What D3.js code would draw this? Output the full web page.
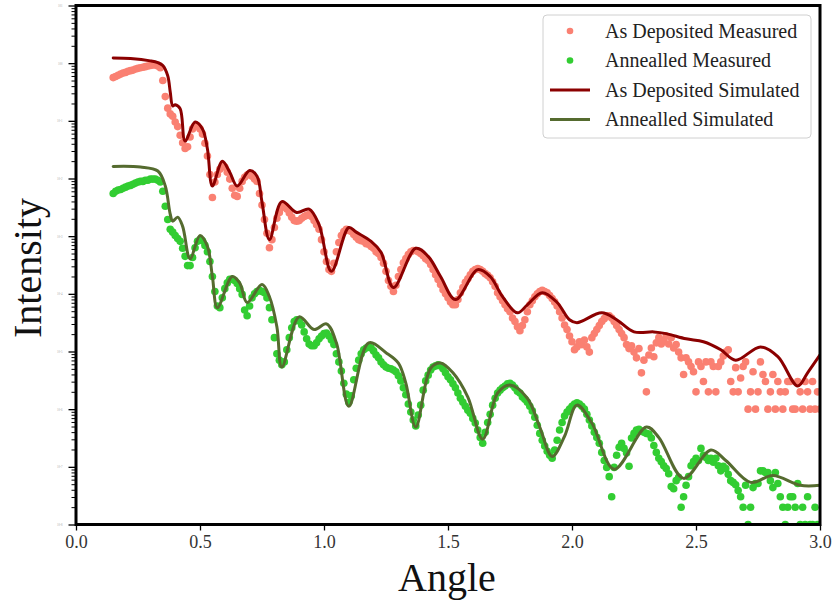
<!DOCTYPE html>
<html>
<head>
<meta charset="utf-8">
<script src="https://cdn.jsdelivr.net/npm/d3@7"></script>
<style>
  body { margin: 0; background: #fff; }
  svg { display: block; }
</style>
</head>
<body>
<svg id="chart" width="832" height="608"></svg>
<script>
// X-ray reflectivity scans: measured points on a 0.01 degree grid, log10 intensity.
const scanStart = 0.15;
const scanStep = 0.01;
const scanCount = 286;

const depositedMeasuredLog = [
  -0.25,-0.23,-0.21,-0.19,-0.17,-0.16,-0.14,-0.13,-0.12,-0.10,
  -0.09,-0.08,-0.07,-0.06,-0.05,-0.04,-0.03,-0.03,-0.05,-0.08,
  -0.30,-0.58,-0.78,-0.88,-0.92,-1.02,-1.10,-1.25,-1.38,-1.48,
  -1.45,-1.28,-1.14,-1.09,-1.09,-1.14,-1.23,-1.39,-1.61,-1.93,
  -2.33,-2.06,-1.93,-1.84,-1.79,-1.80,-1.89,-2.01,-2.17,-2.29,
  -2.31,-2.17,-2.05,-1.98,-1.94,-1.93,-1.96,-2.01,-2.05,-2.26,
  -2.46,-2.71,-2.95,-3.20,-3.06,-2.85,-2.69,-2.59,-2.50,-2.48,
  -2.53,-2.60,-2.67,-2.73,-2.74,-2.73,-2.69,-2.66,-2.64,-2.62,
  -2.66,-2.73,-2.80,-2.88,-3.06,-3.27,-3.44,-3.58,-3.61,-3.47,
  -3.27,-3.11,-2.99,-2.92,-2.88,-2.90,-2.92,-2.97,-3.02,-3.06,
  -3.08,-3.09,-3.13,-3.14,-3.18,-3.21,-3.27,-3.30,-3.37,-3.47,
  -3.61,-3.77,-3.87,-3.96,-3.85,-3.70,-3.58,-3.46,-3.39,-3.32,
  -3.27,-3.25,-3.25,-3.27,-3.30,-3.34,-3.39,-3.42,-3.49,-3.58,
  -3.67,-3.75,-3.84,-3.93,-4.00,-4.07,-4.14,-4.19,-4.19,-4.10,
  -3.98,-3.89,-3.80,-3.74,-3.67,-3.61,-3.58,-3.56,-3.58,-3.61,
  -3.65,-3.68,-3.72,-3.79,-3.87,-3.98,-4.05,-4.12,-4.19,-4.26,
  -4.31,-4.42,-4.48,-4.57,-4.64,-4.55,-4.45,-4.31,-4.19,-4.12,
  -4.05,-4.00,-3.96,-3.94,-3.96,-3.98,-4.03,-4.08,-4.14,-4.21,
  -4.31,-4.42,-4.54,-4.62,-4.73,-4.83,-4.97,-4.92,-4.83,-4.88,
  -4.80,-4.92,-5.01,-4.76,-4.69,-4.62,-4.55,-4.48,-4.43,-4.38,
  -4.38,-4.42,-4.48,-4.55,-4.62,-4.69,-4.76,-4.88,-4.95,-4.90,
  -5.01,-5.11,-4.95,-5.37,-5.15,-5.70,-5.06,-4.94,-5.09,-4.85,
  -4.76,-4.87,-4.80,-4.73,-4.87,-4.76,-4.94,-4.88,-5.01,-5.11,
  -5.40,-5.11,-5.18,-5.26,-5.35,-5.70,-5.18,-5.26,-5.52,-5.18,
  -5.70,-5.18,-5.26,-5.70,-5.26,-5.18,-5.08,-5.01,-4.97,-5.52,
  -5.70,-5.28,-5.70,-5.46,-5.26,-5.18,-6.00,-5.70,-5.35,-6.00,
  -5.70,-5.18,-5.40,-5.52,-6.00,-5.70,-5.40,-6.00,-5.52,-5.70,
  -6.00,-5.70,-5.52,-5.52,-6.00,-6.00,-5.52,-5.70,-6.00,-5.52,
  -5.70,-6.00,-5.52,-6.00,-5.70,-6.00
];

const annealedMeasuredLog = [
  -2.26,-2.22,-2.20,-2.19,-2.17,-2.15,-2.13,-2.12,-2.10,-2.08,
  -2.06,-2.05,-2.05,-2.03,-2.03,-2.01,-2.01,-2.01,-2.03,-2.06,
  -2.22,-2.48,-2.71,-2.88,-2.93,-2.99,-3.04,-3.09,-3.21,-3.35,
  -3.51,-3.51,-3.37,-3.20,-3.09,-3.06,-3.08,-3.16,-3.27,-3.44,
  -3.70,-3.96,-4.21,-4.24,-4.07,-3.91,-3.81,-3.75,-3.75,-3.77,
  -3.82,-3.91,-4.01,-4.28,-4.38,-4.21,-4.07,-4.00,-3.96,-3.94,
  -3.96,-3.98,-4.07,-4.24,-4.45,-4.76,-5.04,-5.15,-5.23,-5.18,
  -4.97,-4.76,-4.59,-4.48,-4.45,-4.47,-4.54,-4.66,-4.78,-4.87,
  -4.90,-4.90,-4.85,-4.78,-4.73,-4.69,-4.68,-4.73,-4.80,-4.88,
  -5.04,-5.18,-5.34,-5.55,-5.74,-5.88,-5.77,-5.49,-5.29,-5.15,
  -5.04,-4.97,-4.94,-4.92,-4.94,-4.99,-5.06,-5.11,-5.18,-5.23,
  -5.27,-5.29,-5.30,-5.32,-5.35,-5.42,-5.51,-5.63,-5.75,-5.91,
  -6.05,-6.19,-6.29,-6.10,-5.93,-5.67,-5.51,-5.41,-5.32,-5.27,
  -5.25,-5.23,-5.25,-5.30,-5.37,-5.44,-5.49,-5.56,-5.63,-5.72,
  -5.81,-5.88,-5.95,-6.02,-6.07,-6.16,-6.24,-6.36,-6.49,-6.59,
  -6.40,-6.23,-6.09,-5.93,-5.81,-5.72,-5.67,-5.63,-5.60,-5.56,
  -5.55,-5.58,-5.63,-5.69,-5.72,-5.79,-5.83,-5.88,-5.95,-6.03,
  -6.14,-6.28,-6.42,-6.54,-6.64,-6.73,-6.80,-6.85,-6.71,-6.54,
  -6.36,-6.23,-6.12,-6.05,-6.00,-5.95,-5.91,-5.89,-5.91,-5.95,
  -6.00,-6.09,-6.19,-6.29,-6.40,-6.49,-6.59,-6.75,-6.89,-7.01,
  -7.17,-7.52,-7.01,-6.80,-6.66,-6.59,-6.68,-6.76,-6.99,-6.50,
  -6.42,-6.36,-6.35,-6.38,-6.40,-6.42,-6.43,-6.50,-6.63,-6.75,
  -6.85,-6.91,-6.98,-7.03,-7.12,-7.34,-7.38,-7.24,-7.18,-7.70,
  -7.52,-7.32,-7.17,-6.98,-6.91,-6.85,-6.89,-6.68,-6.80,-6.84,
  -6.89,-6.85,-6.92,-6.85,-6.98,-7.07,-6.99,-7.03,-7.13,-7.24,
  -7.27,-7.31,-7.41,-7.52,-7.70,-7.32,-8.00,-7.70,-7.36,-7.29,
  -7.29,-7.07,-7.07,-7.10,-7.10,-7.24,-7.36,-7.10,-7.29,-7.52,
  -7.70,-8.00,-7.70,-7.52,-7.52,-7.70,-7.29,-8.00,-7.70,-8.00,
  -7.52,-8.00,-8.00,-7.70,-8.00,-8.00
];

// Simulated reflectivity curves (angle, log10 intensity).
const depositedSimAngle = [0.15,0.22,0.30,0.33,0.35,0.37,0.38,0.39,0.40,0.42,0.44,0.48,0.51,0.53,0.55,0.59,0.62,0.65,0.70,0.73,0.75,0.78,0.83,0.89,0.94,0.98,1.03,1.10,1.13,1.19,1.23,1.28,1.37,1.42,1.47,1.53,1.62,1.67,1.72,1.78,1.82,1.88,1.94,1.99,2.02,2.12,2.18,2.25,2.33,2.38,2.46,2.53,2.60,2.66,2.76,2.83,2.91,2.95,3.00];
const depositedSimLog = [0.09,0.08,0.04,0.01,-0.04,-0.22,-0.50,-0.74,-0.72,-0.79,-1.35,-1.02,-1.14,-1.49,-2.13,-1.70,-1.89,-2.13,-1.86,-1.96,-2.41,-3.06,-2.40,-2.59,-2.53,-2.80,-3.61,-2.85,-2.93,-3.09,-3.28,-3.89,-3.21,-3.35,-3.70,-4.10,-3.58,-3.70,-4.05,-4.33,-4.19,-3.98,-4.15,-4.45,-4.50,-4.33,-4.45,-4.66,-4.66,-4.69,-4.78,-4.83,-4.97,-5.15,-4.92,-5.09,-5.60,-5.37,-5.06];

const annealedSimAngle = [0.15,0.26,0.33,0.36,0.38,0.39,0.41,0.43,0.46,0.50,0.53,0.55,0.57,0.63,0.66,0.69,0.75,0.78,0.81,0.83,0.90,0.96,1.01,1.05,1.10,1.18,1.25,1.30,1.33,1.37,1.43,1.47,1.52,1.58,1.64,1.70,1.75,1.82,1.87,1.92,1.97,2.02,2.08,2.17,2.30,2.35,2.45,2.56,2.62,2.72,2.81,2.92,3.00];
const annealedSimLog = [-1.79,-1.80,-1.87,-2.13,-2.62,-2.74,-2.67,-2.83,-3.39,-2.99,-3.18,-3.70,-4.24,-3.70,-3.81,-4.15,-3.84,-4.05,-4.57,-5.27,-4.40,-4.62,-4.52,-4.85,-5.95,-4.85,-5.02,-5.20,-5.55,-6.31,-5.29,-5.20,-5.37,-5.79,-6.52,-5.72,-5.58,-5.81,-6.31,-6.82,-6.47,-5.93,-6.24,-7.04,-6.31,-6.49,-7.20,-6.71,-6.89,-7.27,-7.15,-7.32,-7.32];

const xTicks = [0.0, 0.5, 1.0, 1.5, 2.0, 2.5, 3.0];
const seriesNames = ["As Deposited Measured", "Annealled Measured", "As Deposited Simulated", "Annealled Simulated"];

const colors = {
  depositedPts: "#fa8072",
  annealedPts: "#32cd32",
  depositedLine: "#8b0000",
  annealedLine: "#556b2f"
};
const serif = "'Liberation Serif', 'Times New Roman', serif";

const svg = d3.select("#chart");
const plot = { left: 76, right: 820, top: 5.5, bottom: 524.5 };

const x = d3.scaleLinear().domain([0, 3]).range([plot.left, plot.right]);
const y = d3.scaleLog().domain([1e-8, 1e1]).range([plot.bottom, plot.top]);

const scanAngles = d3.range(scanCount).map(i => Math.round((scanStart + i * scanStep) * 100) / 100);
const toPoints = (angles, logs) => angles.map((a, i) => ({ a, v: Math.pow(10, logs[i]) }));

svg.append("defs").append("clipPath").attr("id", "plot-clip")
  .append("rect")
  .attr("x", plot.left).attr("y", plot.top)
  .attr("width", plot.right - plot.left).attr("height", plot.bottom - plot.top);

const area = svg.append("g").attr("clip-path", "url(#plot-clip)");

// measured scatter
[[depositedMeasuredLog, colors.depositedPts], [annealedMeasuredLog, colors.annealedPts]].forEach(([logs, c]) => {
  area.append("g").selectAll("circle")
    .data(toPoints(scanAngles, logs))
    .join("circle")
    .attr("cx", d => x(d.a))
    .attr("cy", d => y(d.v))
    .attr("r", 3.8)
    .attr("fill", c);
});

// simulated curves
const line = d3.line().x(d => x(d.a)).y(d => y(d.v)).curve(d3.curveCatmullRom.alpha(0.5));
[[depositedSimAngle, depositedSimLog, colors.depositedLine], [annealedSimAngle, annealedSimLog, colors.annealedLine]].forEach(([angles, logs, c]) => {
  area.append("path")
    .datum(toPoints(angles, logs))
    .attr("d", line)
    .attr("fill", "none")
    .attr("stroke", c)
    .attr("stroke-width", 3)
    .attr("stroke-linejoin", "round")
    .attr("stroke-linecap", "round");
});

// x axis
const xAxis = svg.append("g")
  .attr("transform", `translate(0,${plot.bottom})`)
  .call(d3.axisBottom(x).tickValues(xTicks).tickFormat(d3.format(".1f")).tickSize(6).tickPadding(5));
xAxis.select(".domain").remove();
xAxis.selectAll(".tick line").attr("stroke", "#000").attr("stroke-width", 1.3);
xAxis.selectAll(".tick text")
  .attr("font-family", serif).attr("font-size", 18).attr("fill", "#333");

// y axis: decade and sub-decade ticks
const majors = d3.range(-8, 2).map(k => Math.pow(10, k));
const minors = [];
for (let k = -8; k < 1; k++) for (let m = 2; m <= 9; m++) minors.push(m * Math.pow(10, k));

const yMinor = svg.append("g")
  .attr("transform", `translate(${plot.left},0)`)
  .call(d3.axisLeft(y).tickValues(minors).tickFormat("").tickSize(4.5));
yMinor.select(".domain").remove();
yMinor.selectAll(".tick line").attr("stroke", "#000").attr("stroke-width", 1);

const yMajor = svg.append("g")
  .attr("transform", `translate(${plot.left},0)`)
  .call(d3.axisLeft(y).tickValues(majors)
    .tickFormat(d => "10" + String(Math.round(Math.log10(d))))
    .tickSize(7.5).tickPadding(6));
yMajor.select(".domain").remove();
yMajor.selectAll(".tick line").attr("stroke", "#000").attr("stroke-width", 1.3);
yMajor.selectAll(".tick text")
  .attr("font-family", serif).attr("font-size", 3).attr("fill", "#aaa");

// frame
svg.append("rect")
  .attr("x", plot.left).attr("y", plot.top)
  .attr("width", plot.right - plot.left).attr("height", plot.bottom - plot.top)
  .attr("fill", "none").attr("stroke", "#000").attr("stroke-width", 3);

// axis titles
svg.append("text")
  .attr("x", 447).attr("y", 591)
  .attr("text-anchor", "middle")
  .attr("font-family", serif).attr("font-size", 40).attr("fill", "#111")
  .text("Angle");
svg.append("text")
  .attr("transform", "translate(41,268) rotate(-90)")
  .attr("text-anchor", "middle")
  .attr("font-family", serif).attr("font-size", 40).attr("fill", "#111")
  .text("Intensity");

// legend
const legend = svg.append("g");
legend.append("rect")
  .attr("x", 543).attr("y", 15).attr("width", 268).attr("height", 123).attr("rx", 4)
  .attr("fill", "#fff").attr("fill-opacity", 0.8)
  .attr("stroke", "#d0d0d0").attr("stroke-width", 1);
const rowsY = [31, 60.5, 90, 119.5];
const legendKinds = [
  { type: "dot", color: colors.depositedPts },
  { type: "dot", color: colors.annealedPts },
  { type: "line", color: colors.depositedLine },
  { type: "line", color: colors.annealedLine }
];
legendKinds.forEach((k, i) => {
  const yy = rowsY[i];
  if (k.type === "dot") {
    legend.append("circle").attr("cx", 570).attr("cy", yy).attr("r", 3.3).attr("fill", k.color);
  } else {
    legend.append("line").attr("x1", 550).attr("x2", 590).attr("y1", yy).attr("y2", yy)
      .attr("stroke", k.color).attr("stroke-width", 3);
  }
  legend.append("text")
    .attr("x", 605).attr("y", yy + 6.5)
    .attr("font-family", serif).attr("font-size", 20).attr("fill", "#222")
    .text(seriesNames[i]);
});
</script>
</body>
</html>
